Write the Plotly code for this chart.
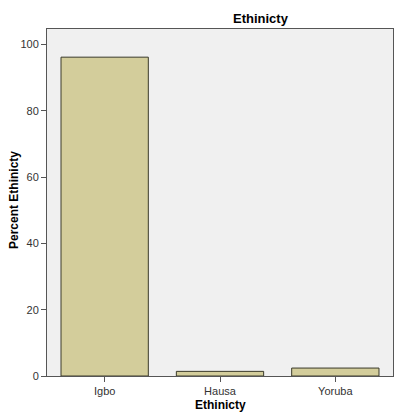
import plotly.graph_objects as go

categories = ["Igbo", "Hausa", "Yoruba"]
percent = [96.2, 1.4, 2.4]
y_ticks = [0, 20, 40, 60, 80, 100]

L, R, T, B = 47, 5, 29, 42
W, H = 398, 418
pw, ph = W - L - R, H - T - B

fig = go.Figure(go.Bar(
    x=categories, y=percent, width=0.757,
    marker=dict(color="#d3cd9b", line=dict(color="#3a3a2a", width=1)),
))

def px_x(x):
    return (x - L) / pw

def px_y(y):
    return (H - B - y) / ph

fig.update_layout(
    width=W, height=H,
    margin=dict(l=L, r=R, t=T, b=B, autoexpand=False),
    paper_bgcolor="white", plot_bgcolor="#f0f0f0",
    font=dict(family="Liberation Sans, Arial, sans-serif", size=11, color="#333"),
    showlegend=False,
    annotations=[
        dict(text="<b>Ethinicty</b>", x=px_x(261), y=px_y(18), xref="paper", yref="paper",
             showarrow=False, font=dict(size=13, color="black"), xanchor="center", yanchor="middle"),
        dict(text="<b>Ethinicty</b>", x=px_x(220), y=px_y(405), xref="paper", yref="paper",
             showarrow=False, font=dict(size=12, color="black"), xanchor="center", yanchor="middle"),
        dict(text="<b>Percent Ethinicty</b>", x=px_x(14), y=px_y(200), xref="paper", yref="paper",
             showarrow=False, textangle=-90, font=dict(size=12, color="black"),
             xanchor="center", yanchor="middle"),
    ],
)

fig.update_xaxes(
    range=[-0.5, 2.5], showline=True, linecolor="#555", linewidth=1, mirror=True,
    ticks="outside", ticklen=5, tickcolor="#555", showgrid=False, automargin=False,
)
fig.update_yaxes(
    range=[0, 104.7], tickvals=y_ticks, showline=True, linecolor="#555", linewidth=1, mirror=True,
    ticks="outside", ticklen=5, tickcolor="#555", showgrid=False, zeroline=False, automargin=False,
)

fig.write_html("out.html", config={"displayModeBar": False},
               post_script="document.body.style.margin='0';document.body.style.overflow='hidden';")
